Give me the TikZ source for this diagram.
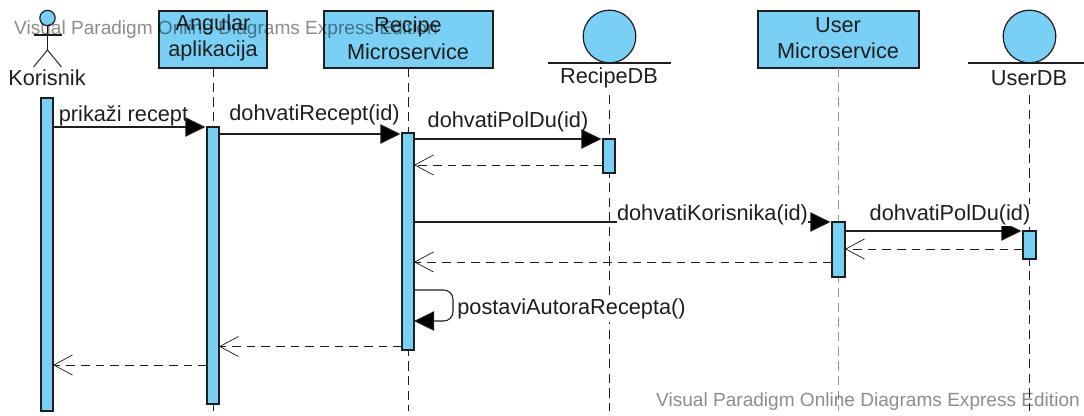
\documentclass[tikz,border=0pt]{standalone}
\usepackage{fontspec}
\setmainfont{Liberation Sans}
\usetikzlibrary{arrows.meta}
\definecolor{vpblue}{RGB}{122,207,245}
\definecolor{vpink}{RGB}{30,30,30}
\tikzset{
  x=0.75pt,y=-0.75pt,
  every node/.style={font=\fontsize{16.3pt}{20pt}\selectfont,text=vpink,inner sep=0pt,outer sep=0pt},
  objbox/.style={draw=vpink,line width=0.9pt,fill=vpblue,anchor=north west},
  objtext/.style={align=center},
  activation/.style={draw=vpink,line width=0.9pt,fill=vpblue,anchor=north west,minimum width=9pt},
  dbcircle/.style={circle,draw=vpink,line width=0.9pt,fill=vpblue,minimum size=39.5pt},
  lifeline/.style={draw=vpink,line width=0.75pt,dash pattern=on 7pt off 4pt},
  lifelinegray/.style={draw=gray!85,line width=1.4pt,dash pattern=on 7pt off 4pt},
  call/.style={draw=vpink,line width=0.8pt,shorten >=1.2pt,-{Triangle[length=15pt,width=14.5pt,fill=black]}},
  selfcall/.style={draw=vpink,line width=0.8pt,-{Triangle[length=15pt,width=14.5pt,fill=black]}},
  reply/.style={draw=vpink,line width=0.7pt,dash pattern=on 6.5pt off 4.5pt,-{Straight Barb[length=14pt,width=15pt,line width=0.55pt,reversed,reversed]}},
  watermark/.style={font=\fontsize{14.3pt}{16pt}\selectfont,text=black,text opacity=0.45},
  msg/.style={font=\fontsize{16.3pt}{18pt}\selectfont}
}
\begin{document}
\begin{tikzpicture}
\useasboundingbox (0,0) rectangle (1084,415);
% message rows and lifeline ends
\coordinate (bottom) at (0,411);
\coordinate (y1) at (0,127);
\coordinate (y2) at (0,134);
\coordinate (y3) at (0,139);
\coordinate (y4) at (0,165);
\coordinate (y5) at (0,222);
\coordinate (y6) at (0,231);
\coordinate (y7) at (0,249);
\coordinate (y8) at (0,262);
\coordinate (y9) at (0,290);
\coordinate (y10) at (0,321);
\coordinate (y11) at (0,346.5);
\coordinate (y12) at (0,365);
% participants
\node[objbox,minimum width=81pt,minimum height=42.75pt] (ang) at (159,11) {};
\node[objbox,minimum width=126.75pt,minimum height=42.75pt] (rec) at (324,11) {};
\node[objbox,minimum width=120.75pt,minimum height=42.75pt] (usr) at (758,11) {};
\node[objtext] (angt) at (213,38) {Angular\\aplikacija};
\node[objtext] (rect) at (408,38) {Recipe\\Microservice};
\node[objtext] (usrt) at (838,38) {User\\Microservice};
\node[dbcircle] (rdb) at (609.5,36.5) {};
\node[dbcircle] (udb) at (1029.5,36.5) {};
\coordinate (rdbL) at (548,63); \coordinate (rdbR) at (671,63);
\coordinate (udbL) at (968,63); \coordinate (udbR) at (1084,63);
\draw[draw=vpink,line width=0.9pt] (rdbL) -- (rdbR);
\draw[draw=vpink,line width=0.9pt] (udbL) -- (udbR);
\node (rdbt) at (609,78) {RecipeDB};
\node (udbt) at (1029,78) {UserDB};
% actor
\node[circle,draw=vpink,line width=0.9pt,fill=vpblue,minimum size=11.5pt] (head) at (47.5,18) {};
\coordinate (hip) at (47.5,50);
\coordinate (armL) at (33.5,35); \coordinate (armR) at (61.5,35);
\coordinate (legL) at (33.5,67); \coordinate (legR) at (61.5,67);
\draw[draw=vpink,line width=0.9pt] (head.south) -- (hip);
\draw[draw=vpink,line width=0.9pt] (armL) -- (armR);
\draw[draw=vpink,line width=0.7pt] (legL) -- (hip) -- (legR);
\node (kor) at (47,78) {Korisnik};
% lifelines
\coordinate (rdbtop) at (609,95);
\coordinate (udbtop) at (1029,95);
\draw[lifeline] (ang.south) -- (ang.south |- bottom);
\draw[lifeline] (rec.south) -- (rec.south |- bottom);
\draw[lifelinegray] (usr.south) -- (usr.south |- bottom);
\draw[lifeline] (rdbtop) -- (rdbtop |- bottom);
\draw[lifeline] (udbtop) -- (udbtop |- bottom);
% activations
\node[activation,minimum height=234.75pt] (a1) at (41,98) {};
\node[activation,minimum height=207.75pt] (a2) at (207,127) {};
\node[activation,minimum height=162.75pt] (a3) at (402,133) {};
\node[activation,minimum height=25.5pt] (a4) at (603,139) {};
\node[activation,minimum height=41.25pt,minimum width=9.75pt] (a5) at (832,222) {};
\node[activation,minimum height=21pt,minimum width=9.75pt] (a6) at (1023,231) {};
% calls
\draw[call] (a1.east |- y1) -- (a2.west |- y1);
\draw[call] (a2.east |- y2) -- (a3.west |- y2);
\draw[call] (a3.east |- y3) -- (a4.west |- y3);
\draw[call] (a3.east |- y5) -- (a5.west |- y5);
\draw[call] (a5.east |- y6) -- (a6.west |- y6);
\draw[reply] (a4.west |- y4) -- (a3.east |- y4);
\draw[reply] (a6.west |- y7) -- (a5.east |- y7);
\draw[reply] (a5.west |- y8) -- (a3.east |- y8);
\draw[reply] (a3.west |- y11) -- (a2.east |- y11);
\draw[reply] (a2.west |- y12) -- (a1.east |- y12);
\coordinate (sa) at (453,290); \coordinate (sb) at (453,321);
\draw[selfcall,rounded corners=7pt] (a3.east |- y9) -- (sa) -- (sb) -- (a3.east |- y10);
% labels
\node[msg] (l1) at (123.5,116) {prikaži recept};
\node[msg] (l2) at (314.5,115) {dohvatiRecept(id)};
\node[msg] (l3) at (508,122) {dohvatiPolDu(id)};
\node[msg,fill=white,inner ysep=1pt] (l4) at (712.5,214.5) {dohvatiKorisnika(id)};
\node[msg,fill=white,anchor=base,text depth=4.8pt] (l5) at (950,220) {dohvatiPolDu(id)};
\node[msg,fill=white,inner ysep=2pt] (l6) at (571.5,309) {postaviAutoraRecepta()};
% watermarks
\node[watermark] (w1) at (226,30) {Visual Paradigm Online Diagrams Express Edition};
\node[watermark] (w2) at (868,402) {Visual Paradigm Online Diagrams Express Edition};
\end{tikzpicture}
\end{document}
